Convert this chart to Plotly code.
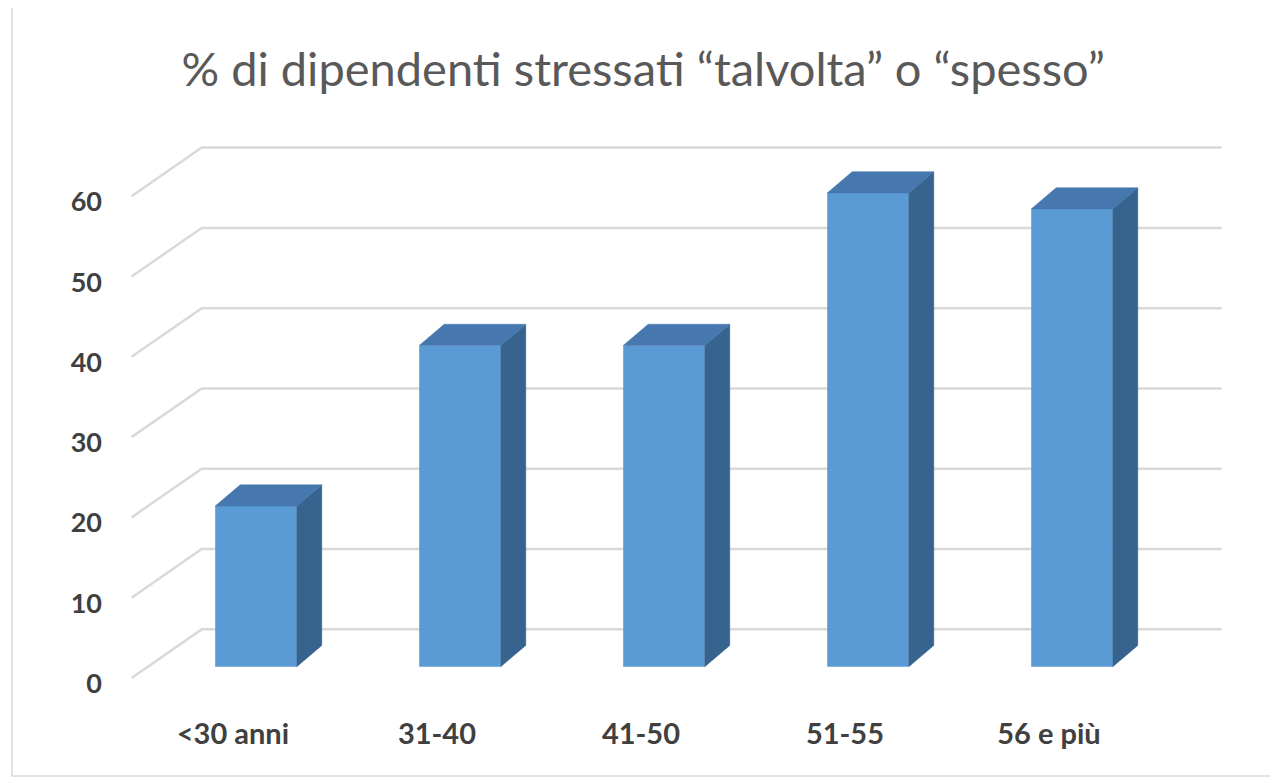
import plotly.graph_objects as go

# ---------------- data ----------------
categories = ["<30 anni", "31-40", "41-50", "51-55", "56 e più"]
values = [20, 40, 40, 59, 57]
grid_values = [0, 10, 20, 30, 40, 50, 60]
grid_labels = ["0", "10", "20", "30", "40", "50", "60"]
title_text = "% di dipendenti stressati “talvolta” o “spesso”"

# ---------------- pseudo-3D geometry (axis units) ----------------
bar_width = 0.4
depth_dx = 0.1225      # bar depth, horizontal
depth_dy = 2.65        # bar depth, vertical
wall_dy = 4.65         # back wall offset
front_dy = -1.41       # front edge of floor/wall lines
wall_x0 = -0.266
wall_x1 = 4.734
front_x = -0.61
label_dy = -2.1
label_dx = -0.113

FRONT = "#5B9BD5"
TOP = "#4677AE"
SIDE = "#37648E"
GRID = "#D9D9D9"

xs = list(range(len(categories)))
half = bar_width / 2

fig = go.Figure()

# front faces (real bars)
fig.add_trace(go.Bar(
    x=xs, y=values, width=bar_width,
    marker=dict(color=FRONT, line=dict(width=0)),
    hoverinfo="skip", showlegend=False,
))

# side faces
sx, sy = [], []
for i, v in zip(xs, values):
    r = i + half
    sx += [r, r + depth_dx, r + depth_dx, r, r, None]
    sy += [0, depth_dy, v + depth_dy, v, 0, None]
fig.add_trace(go.Scatter(
    x=sx, y=sy, mode="lines", fill="toself", fillcolor=SIDE,
    line=dict(color=SIDE, width=0.5), hoverinfo="skip", showlegend=False,
))

# top faces
tx, ty = [], []
for i, v in zip(xs, values):
    l, r = i - half, i + half
    tx += [l, r, r + depth_dx, l + depth_dx, l, None]
    ty += [v, v, v + depth_dy, v + depth_dy, v, None]
fig.add_trace(go.Scatter(
    x=tx, y=ty, mode="lines", fill="toself", fillcolor=TOP,
    line=dict(color=TOP, width=0.5), hoverinfo="skip", showlegend=False,
))

# gridlines (floor diagonal + back wall), drawn below the traces
shapes = []
for g in grid_values:
    shapes.append(dict(
        type="path", xref="x", yref="y", layer="below",
        path=f"M {front_x},{g + front_dy} L {wall_x0},{g + wall_dy} L {wall_x1},{g + wall_dy}",
        line=dict(color=GRID, width=2.5),
    ))

# outer light border of the chart
shapes.append(dict(
    type="rect", xref="paper", yref="paper", layer="below",
    x0=-0.0887, x1=1.04, y0=-0.1288, y1=1.1746,
    line=dict(color="#D9D9D9", width=1.5),
))

fig.update_layout(
    width=1278, height=778,
    margin=dict(l=104, r=46, t=102, b=86),
    paper_bgcolor="white", plot_bgcolor="white",
    showlegend=False,
    shapes=shapes,
    title=dict(
        text=title_text, x=0.497, xref="container", xanchor="center",
        y=1 - 62 / 778, yref="container", yanchor="middle",
        font=dict(family="Lato", size=47, color="#595959"),
    ),
    xaxis=dict(
        range=[-0.7059, 4.8235], showgrid=False, zeroline=False, showline=False,
        tickmode="array", tickvals=[i + label_dx for i in xs], ticktext=categories,
        ticks="", ticklabelstandoff=14,
        tickfont=dict(family="Lato", size=29, color="#404040", weight="bold"),
    ),
    yaxis=dict(
        range=[-4.147, 69.33], showgrid=False, zeroline=False, showline=False,
        tickmode="array", tickvals=[g + label_dy for g in grid_values], ticktext=grid_labels,
        ticks="", ticklabelstandoff=9,
        tickfont=dict(family="Lato", size=27, color="#404040", weight="bold"),
    ),
)

fig.write_html("out.html")
